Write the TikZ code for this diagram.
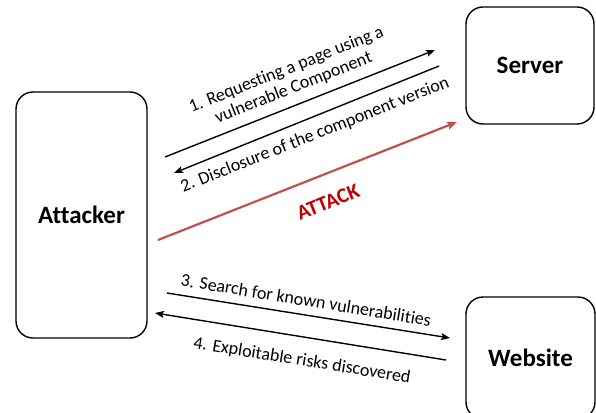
\documentclass[tikz,border=0pt]{standalone}
\usepackage{fontspec}
\setmainfont{Carlito}[Ligatures={NoCommon}]
\usetikzlibrary{arrows.meta}
\definecolor{atkline}{RGB}{192,80,77}
\definecolor{atktext}{RGB}{192,0,0}
\tikzset{
  entity/.style={draw=black, line width=1.4pt, rounded corners=17pt, fill=white,
    font=\fontsize{25}{29}\selectfont\bfseries, inner sep=0pt},
  msg/.style={draw=black, line width=1.4pt, -{Stealth[length=9pt,width=7pt,inset=2pt]}},
  atk/.style={draw=atkline, line width=2.2pt, -{Stealth[length=10pt,width=8pt,inset=2pt]}},
  lbl/.style={font=\fontsize{18}{19.5}\selectfont, align=center, inner sep=0pt},
  atklbl/.style={font=\fontsize{21}{24}\selectfont\bfseries, text=atktext, inner sep=0pt}
}
\begin{document}
\begin{tikzpicture}[x=1pt,y=-1pt]
\useasboundingbox (0,0) rectangle (596,412);
\clip (0,0) rectangle (596,412);
\node[entity, minimum width=131pt, minimum height=246pt] (att) at (81.5,215) {Attacker};
\node[entity, minimum width=128pt, minimum height=117pt] (srv) at (530,65.5) {Server};
\node[entity, minimum width=129pt, minimum height=122pt] (web) at (530.5,358) {Website};

\coordinate (a1s) at (165,157);  \coordinate (a1e) at (435,50);
\coordinate (a2s) at (439,66);   \coordinate (a2e) at (174,173);
\coordinate (aks) at (158,240);  \coordinate (ake) at (457,122);
\coordinate (a3s) at (167,293);  \coordinate (a3e) at (450,338);
\coordinate (a4s) at (446,360);  \coordinate (a4e) at (155,313);

\draw[msg] (a1s) -- (a1e);
\draw[msg] (a2s) -- (a2e);
\draw[atk] (aks) -- (ake);
\draw[msg] (a3s) -- (a3e);
\draw[msg] (a4s) -- (a4e);

\node[lbl, rotate=21.6] (l1) at (290,79) {1. Requesting a page using a\\vulnerable Component};
\node[lbl, rotate=21.6] (l2) at (315,135) {2. Disclosure of the component version};
\node[atklbl, rotate=21.5] (lk) at (328,202) {ATTACK};
\node[lbl, rotate=-9.3] (l3) at (306,300) {3. Search for known vulnerabilities};
\node[lbl, rotate=-9.2] (l4) at (302,361) {4. Exploitable risks discovered};
\end{tikzpicture}
\end{document}
